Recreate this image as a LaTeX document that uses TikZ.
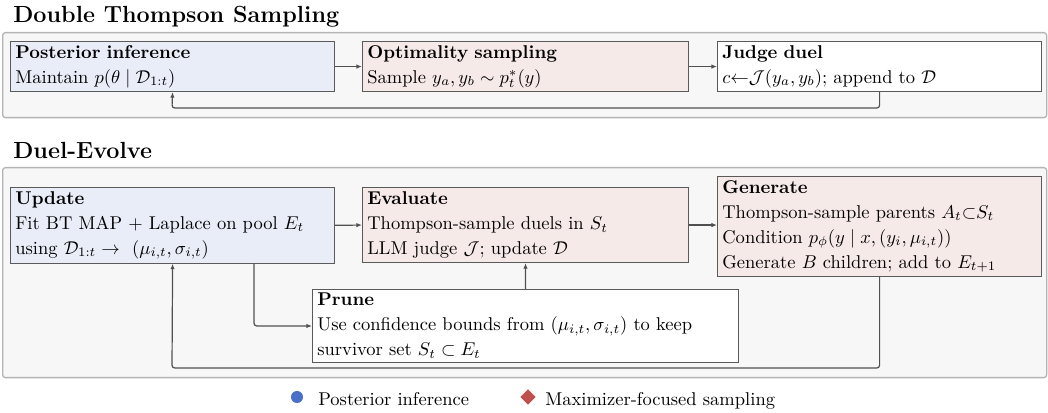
\documentclass[tikz,border=0pt]{standalone}
\usepackage{amsmath,amssymb}
\usetikzlibrary{arrows.meta,positioning,shapes.geometric}
\definecolor{panelfill}{HTML}{F7F7F7}
\definecolor{paneldraw}{HTML}{B4B4B4}
\definecolor{boxdraw}{HTML}{5A5A5A}
\definecolor{bluefill}{HTML}{E8EDF7}
\definecolor{pinkfill}{HTML}{F6EAE8}
\definecolor{linec}{HTML}{505050}
\definecolor{legblue}{HTML}{4A70C8}
\definecolor{legred}{HTML}{C0504D}
\tikzset{
  panel/.style={draw=paneldraw, fill=panelfill, line width=0.7pt, rounded corners=1.5pt, anchor=north west, inner sep=0pt},
  blk/.style={draw=boxdraw, line width=0.6pt, anchor=north west, align=left, inner xsep=2.6pt, inner ysep=2pt,
    font=\fontsize{10}{13.5}\selectfont},
  blkblue/.style={blk, fill=bluefill},
  blkpink/.style={blk, fill=pinkfill},
  blkwhite/.style={blk, fill=white},
  conn/.style={draw=linec, line width=0.65pt, rounded corners=1.5pt, -{Latex[length=3pt,width=2.4pt]}},
  ttl/.style={anchor=base west, font=\fontsize{12.6}{15}\selectfont\bfseries, inner sep=0pt},
  legtext/.style={anchor=base west, inner sep=0pt, font=\fontsize{10}{12}\selectfont},
}
\begin{document}
\begin{tikzpicture}[x=0.54pt,y=-0.54pt]
\useasboundingbox (0,0) rectangle (1048,413);
% titles
\node[ttl] (t1) at (13,23) {Double Thompson Sampling};
\node[ttl] (t2) at (13,159) {Duel-Evolve};
% panels
\node[panel, minimum width=1044*0.54pt, minimum height=85*0.54pt] (p1) at (2,32) {};
\node[panel, minimum width=1044*0.54pt, minimum height=210*0.54pt] (p2) at (2,167) {};
% DTS boxes
\node[blkblue, text width=169.8pt, minimum height=27pt] (pi) at (10,41)
  {\textbf{Posterior inference}\\Maintain $p(\theta \mid \mathcal{D}_{1:t})$};
\node[blkpink, text width=170.8pt, minimum height=27pt] (opt) at (362,41)
  {\textbf{Optimality sampling}\\Sample $y_a, y_b \sim p_t^*(y)$};
\node[blkwhite, text width=169.8pt, minimum height=27pt] (judge) at (717,41)
  {\textbf{Judge duel}\\$c{\leftarrow}\mathcal{J}(y_a, y_b)$; append to $\mathcal{D}$};
\draw[conn] (pi.east) -- (opt.west);
\draw[conn] (opt.east) -- (judge.west);
\coordinate (fb1) at (172,108);
\draw[conn] (judge.south) |- (fb1) -- (pi.south);
% Duel-Evolve boxes
\node[blkblue, text width=169.8pt, minimum height=40.5pt] (upd) at (10,187)
  {\textbf{Update}\\Fit BT MAP + Laplace on pool $E_t$\\using $\mathcal{D}_{1:t} \rightarrow$\ \ $(\mu_{i,t}, \sigma_{i,t})$};
\node[blkpink, text width=170.8pt, minimum height=40.5pt] (eva) at (362,187)
  {\textbf{Evaluate}\\Thompson-sample duels in $S_t$\\LLM judge $\mathcal{J}$; update $\mathcal{D}$};
\node[blkpink, text width=169.8pt, minimum height=52.9pt] (gen) at (717,176)
  {\textbf{Generate}\\Thompson-sample parents $A_t{\subset}S_t$\\Condition $p_\phi(y \mid x, (y_i, \mu_{i,t}))$\\Generate $B$ children; add to $E_{t+1}$};
\node[blkwhite, text width=224.8pt, minimum height=38.3pt] (pru) at (312,289)
  {\textbf{Prune}\\Use confidence bounds from $(\mu_{i,t}, \sigma_{i,t})$ to keep\\survivor set $S_t \subset E_t$};
\draw[conn] (upd.east) -- (eva.west);
\draw[conn] (eva.east) -- (eva.east -| gen.west);
\coordinate (c1) at (254,325);
\draw[conn] (upd.south -| c1) |- (pru.west);
\draw[conn] (pru.north) -- (eva.south);
\coordinate (c2) at (172,368);
\draw[conn] (gen.south) |- (c2) -- (upd.south);
% legend
\node[circle, fill=legblue, inner sep=0pt, minimum size=6.5pt] (lc) at (297,397) {};
\node[legtext] (l1) at (318,406) {Posterior inference};
\node[diamond, fill=legred, inner sep=0pt, minimum size=8.5pt] (ld) at (528,397) {};
\node[legtext] (l2) at (545,406) {Maximizer-focused sampling};
\end{tikzpicture}
\end{document}
